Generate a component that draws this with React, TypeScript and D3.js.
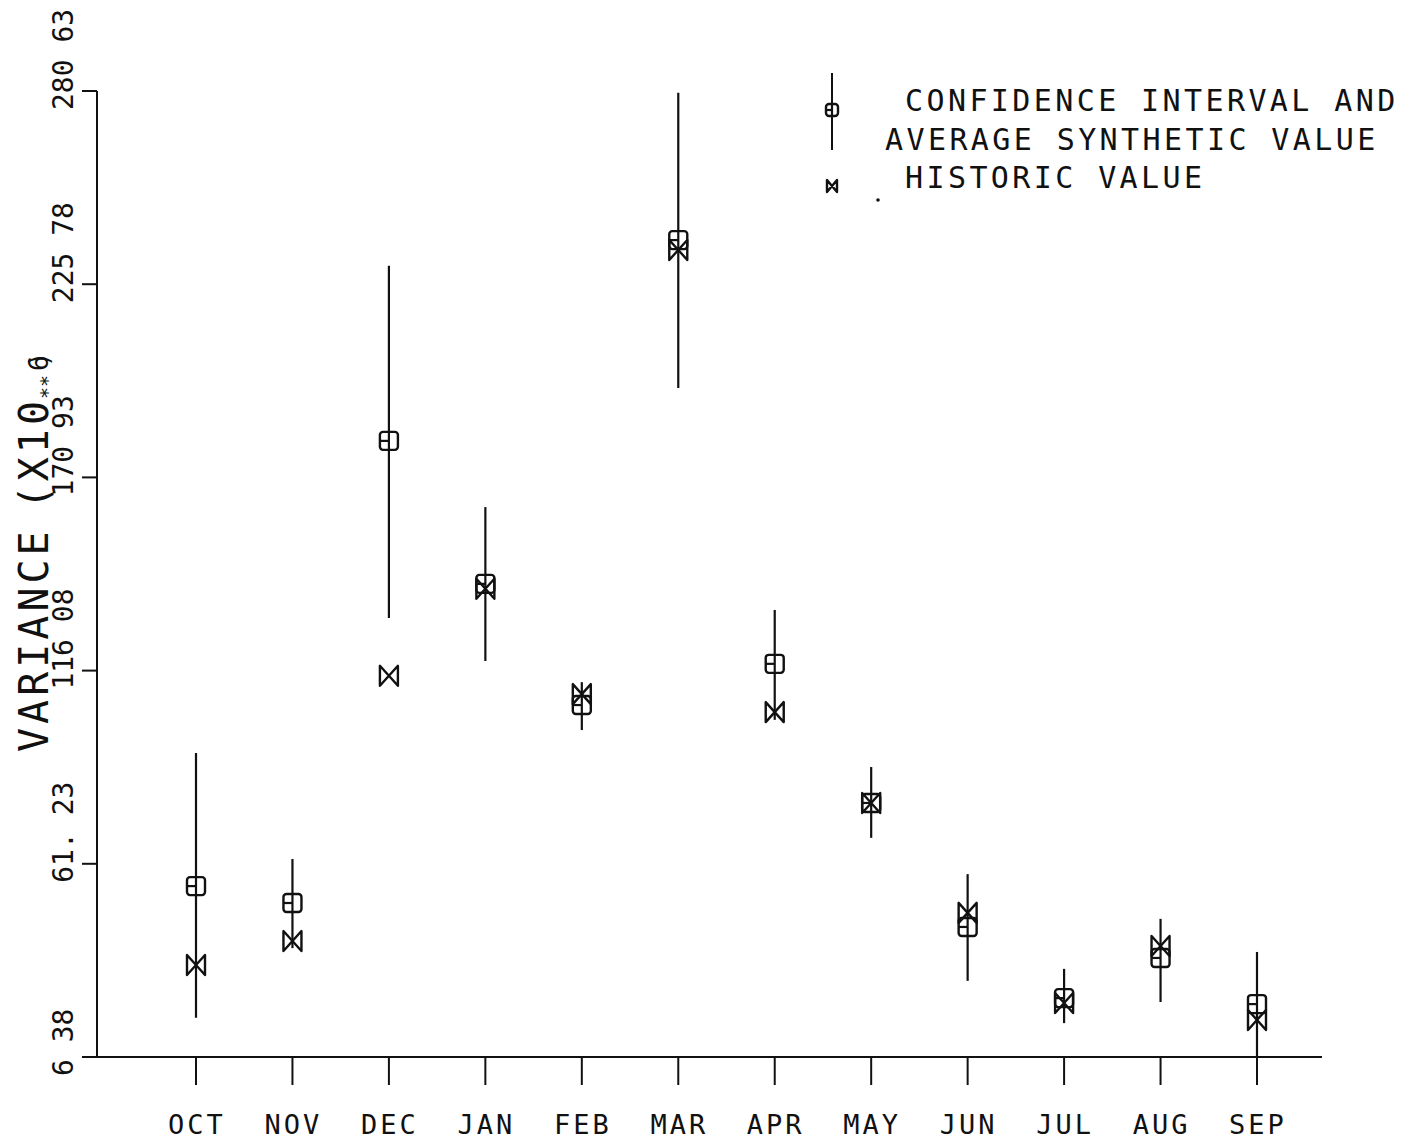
import React from "react";
import * as d3 from "d3";

const months = ["OCT", "NOV", "DEC", "JAN", "FEB", "MAR", "APR", "MAY", "JUN", "JUL", "AUG", "SEP"];
const ciUpper = [92.7, 62.6, 231.0, 162.5, 112.8, 280.1, 133.3, 88.7, 58.3, 31.4, 45.6, 36.2];
const ciLower = [17.5, 37.3, 131.0, 118.8, 99.2, 196.3, 102.1, 68.6, 28.0, 16.0, 22.0, 6.38];
const synthetic = [54.9, 50.1, 181.3, 140.7, 106.3, 238.3, 118.0, 78.5, 43.3, 23.1, 34.5, 21.4];
const historic = [32.5, 39.3, 114.6, 139.3, 109.4, 235.5, 104.3, 78.5, 47.3, 21.7, 37.9, 16.9];
const yTickValues = [6.38, 61.23, 116.08, 170.93, 225.78, 280.63];
const yTickLabels = ["6 38", "61. 23", "116 08", "170 93", "225 78", "280 63"];
const legendLines = ["CONFIDENCE INTERVAL AND", "AVERAGE SYNTHETIC VALUE", "HISTORIC VALUE"];

const FONT = "'DejaVu Sans Mono', monospace";
const INK = "#111";

function SquareMark({ x, y, s = 9 }: { x: number; y: number; s?: number }) {
  return (
    <g>
      <rect x={x - s} y={y - s} width={2 * s} height={2 * s} rx={3} fill="white" stroke={INK} strokeWidth={2.4} />
      <line x1={x - s} x2={x} y1={y} y2={y} stroke={INK} strokeWidth={2.2} />
      <line x1={x} x2={x} y1={y - s} y2={y + s} stroke={INK} strokeWidth={2.2} />
    </g>
  );
}

function BowTie({ x, y, s = 9 }: { x: number; y: number; s?: number }) {
  const h = s + 1;
  const d = `M${x - s},${y - h} L${x - s},${y + h} L${x + s},${y - h} L${x + s},${y + h} Z`;
  return <path d={d} fill="none" stroke={INK} strokeWidth={2.4} strokeLinejoin="round" />;
}

export default function App() {
  const W = 1410;
  const H = 1140;
  const y = d3.scaleLinear().domain([6.38, 280.63]).range([1057, 91]);
  const x = d3.scalePoint<string>().domain(months).range([196, 1257]);
  const axisX = 97;
  const axisY = y(6.38);

  return (
    <svg width={W} height={H} style={{ position: "absolute", left: 0, top: 0, background: "white" }}>
      <rect width={W} height={H} fill="white" />
      {/* axes */}
      <line x1={axisX} x2={axisX} y1={y(280.63)} y2={axisY} stroke={INK} strokeWidth={2} />
      <line x1={axisX} x2={1322} y1={axisY} y2={axisY} stroke={INK} strokeWidth={2} />
      {yTickValues.map((v, i) => (
        <g key={"yt" + i}>
          <line x1={82} x2={axisX} y1={y(v)} y2={y(v)} stroke={INK} strokeWidth={2} />
          <text
            transform={`translate(73,${y(v) + 19}) rotate(-90)`}
            fontFamily={FONT}
            fontSize={28}
            letterSpacing={0}
            fill={INK}
          >
            {yTickLabels[i]}
          </text>
        </g>
      ))}
      {months.map((m) => (
        <g key={"xt" + m}>
          <line x1={x(m)!} x2={x(m)!} y1={axisY} y2={axisY + 28} stroke={INK} strokeWidth={2} />
          <text
            x={x(m)! + 1}
            y={1134}
            textAnchor="middle"
            fontFamily={FONT}
            fontSize={27}
            letterSpacing={3}
            fill={INK}
          >
            {m}
          </text>
        </g>
      ))}
      {/* y title */}
      <text transform="translate(48,752) rotate(-90)" fontFamily={FONT} fontSize={40} letterSpacing={4} fill={INK}>
        VARIANCE<tspan dx={18}>(X10</tspan>
        <tspan fontSize={20} letterSpacing={0} dy={6} dx={-2}>**</tspan>
        <tspan fontSize={26} letterSpacing={0} dy={-6} dx={4}>6</tspan>
        <tspan fontSize={26} letterSpacing={0} dx={-12}>)</tspan>
      </text>
      {/* data */}
      {months.map((m, i) => (
        <g key={"d" + m}>
          <line x1={x(m)!} x2={x(m)!} y1={y(ciUpper[i])} y2={y(ciLower[i])} stroke={INK} strokeWidth={2.2} />
          <SquareMark x={x(m)!} y={y(synthetic[i])} />
          <BowTie x={x(m)!} y={y(historic[i])} />
        </g>
      ))}
      {/* legend */}
      <line x1={832} x2={832} y1={73} y2={150} stroke={INK} strokeWidth={2} />
      <SquareMark x={832} y={110} s={6} />
      <BowTie x={832} y={186} s={5} />
      <circle cx={878} cy={200} r={1.8} fill={INK} />
      {legendLines.map((t, i) => (
        <text
          key={"lg" + i}
          x={i === 1 ? 885 : 905}
          y={111 + i * 38.5}
          fontFamily={FONT}
          fontSize={30}
          letterSpacing={3.4}
          fill={INK}
        >
          {t}
        </text>
      ))}
    </svg>
  );
}
